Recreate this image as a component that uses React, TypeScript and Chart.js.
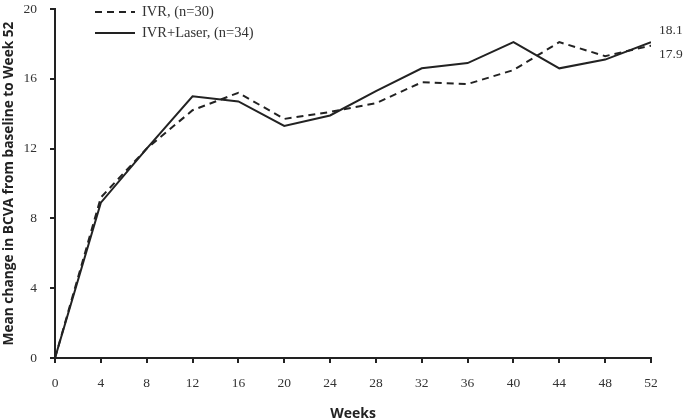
import React, { useEffect, useRef } from "react";
import { Chart, registerables } from "chart.js";

Chart.register(...registerables);

const weeks = [0, 4, 8, 12, 16, 20, 24, 28, 32, 36, 40, 44, 48, 52];
const ivr = [0, 9.2, 12.0, 14.2, 15.2, 13.7, 14.1, 14.6, 15.8, 15.7, 16.5, 18.1, 17.3, 17.9];
const ivrLaser = [0, 8.9, 12.0, 15.0, 14.7, 13.3, 13.9, 15.3, 16.6, 16.9, 18.1, 16.6, 17.1, 18.1];
const seriesLabels = ["IVR, (n=30)", "IVR+Laser, (n=34)"];
const xTitle = "Weeks";
const yTitle = "Mean change in BCVA from baseline to Week 52";

const INK = "#222";
const DASH = [7, 5];

const overlayPlugin = {
  id: "overlay",
  afterDatasetsDraw(chart: any) {
    const ctx = chart.ctx;
    const xs = chart.scales.x;
    const ys = chart.scales.y;
    ctx.save();
    ctx.strokeStyle = INK;
    ctx.fillStyle = "#333";
    ctx.lineWidth = 2;
    ctx.font = "14.5px 'Liberation Serif'";
    ctx.textBaseline = "middle";
    ctx.textAlign = "left";
    // legend
    chart.data.datasets.forEach((ds: any, i: number) => {
      const y = 12 + i * 21;
      ctx.setLineDash(ds.borderDash || []);
      ctx.beginPath();
      ctx.moveTo(95, y);
      ctx.lineTo(135, y);
      ctx.stroke();
      ctx.fillText(ds.label, 142, y);
    });
    ctx.setLineDash([]);
    // end value labels
    ctx.font = "13.5px 'Liberation Serif'";
    const lastX = xs.getPixelForValue(weeks[weeks.length - 1]) + 8;
    const vLaser = ivrLaser[ivrLaser.length - 1];
    const vIvr = ivr[ivr.length - 1];
    ctx.fillText(vLaser.toFixed(1), lastX, ys.getPixelForValue(vLaser) - 12);
    ctx.fillText(vIvr.toFixed(1), lastX, ys.getPixelForValue(vIvr) + 9);
    ctx.restore();
  },
};

export default function App() {
  const ref = useRef<HTMLCanvasElement | null>(null);
  useEffect(() => {
    document.body.style.margin = "0";
    const canvas = ref.current;
    if (!canvas) return;
    const chart = new Chart(canvas, {
      type: "line",
      data: {
        datasets: [
          {
            label: seriesLabels[0],
            data: weeks.map((w, i) => ({ x: w, y: ivr[i] })),
            borderColor: INK,
            borderWidth: 2,
            borderDash: DASH,
            pointRadius: 0,
            tension: 0,
            fill: false,
          },
          {
            label: seriesLabels[1],
            data: weeks.map((w, i) => ({ x: w, y: ivrLaser[i] })),
            borderColor: INK,
            borderWidth: 2,
            pointRadius: 0,
            tension: 0,
            fill: false,
          },
        ],
      },
      options: {
        animation: false,
        responsive: false,
        layout: { padding: { top: 9, right: 34, left: 0, bottom: 0 } },
        plugins: {
          legend: { display: false },
          tooltip: { enabled: false },
        },
        scales: {
          x: {
            type: "linear",
            min: 0,
            max: 52,
            ticks: {
              stepSize: 4,
              color: "#333",
              padding: 12,
              maxRotation: 0,
              font: { family: "'Liberation Serif'", size: 13.5 },
            },
            grid: { drawOnChartArea: false, drawTicks: true, tickLength: 5, color: INK, lineWidth: 2 },
            border: { display: true, color: INK, width: 2 },
            title: {
              display: true,
              text: xTitle,
              color: "#222",
              padding: { top: 0, bottom: -3 },
              font: { family: "'Open Sans'", size: 14, weight: "bold" },
            },
            afterFit: (s: any) => {
              s.height = 61;
              s.paddingLeft = 0;
              s.paddingRight = 0;
            },
          },
          y: {
            min: 0,
            max: 20,
            ticks: {
              stepSize: 4,
              color: "#333",
              padding: 13,
              font: { family: "'Liberation Serif'", size: 13.5 },
            },
            grid: { drawOnChartArea: false, drawTicks: true, tickLength: 5, color: INK, lineWidth: 2 },
            border: { display: true, color: INK, width: 2 },
            title: {
              display: true,
              text: yTitle,
              color: "#222",
              padding: { top: 1, bottom: 0 },
              font: { family: "'Open Sans'", size: 13.7, weight: "bold" },
            },
            afterFit: (s: any) => {
              s.width = 55;
              s.paddingTop = 0;
              s.paddingBottom = 0;
            },
          },
        },
      },
      plugins: [overlayPlugin],
    } as any);
    return () => chart.destroy();
  }, []);
  return (
    <div style={{ width: 685, height: 419, background: "#fff" }}>
      <canvas ref={ref} width={685} height={419} />
    </div>
  );
}
